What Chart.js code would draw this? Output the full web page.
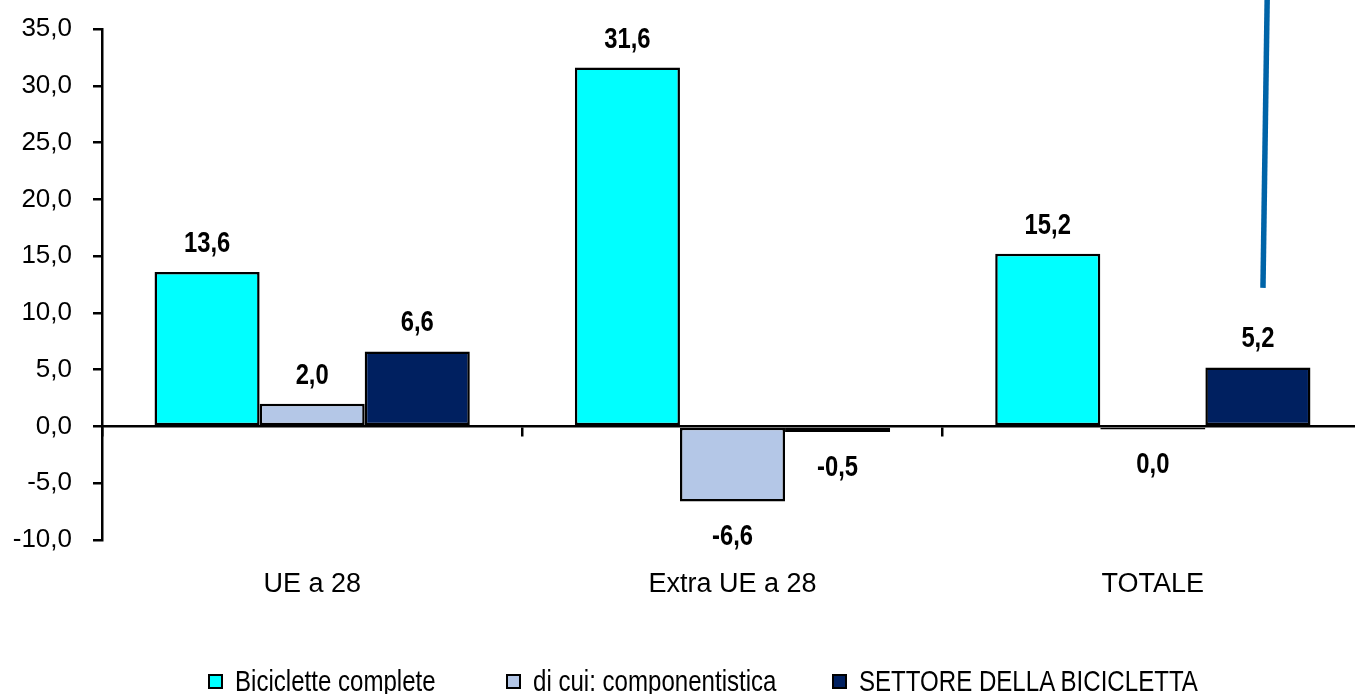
<!DOCTYPE html>
<html>
<head>
<meta charset="utf-8">
<script src="https://cdn.jsdelivr.net/npm/chart.js@4.4.1/dist/chart.umd.min.js"></script>
<style>
  html, body { margin: 0; padding: 0; background: #fff; overflow: hidden; }
  #wrap { position: relative; width: 1363px; height: 694px; }
  #legend { position: absolute; left: 0; top: 667px; width: 1355px; height: 28px; }
  .item { position: absolute; top: 0; display: flex; align-items: center; height: 28px; color: #000; white-space: nowrap; }
  .item:nth-child(1) { left: 208px; }
  .item:nth-child(2) { left: 506px; }
  .item:nth-child(3) { left: 832px; }
  .box { width: 15px; height: 15px; box-sizing: border-box; border: 2px solid #000; margin-right: 12px; }
  .txt { display: inline-block; font: 29px 'Liberation Sans', Arial, sans-serif; transform: scaleX(0.83); transform-origin: left center; }
</style>
</head>
<body>
<div id="wrap">
  <canvas id="myChart"></canvas>
  <div id="legend"></div>
</div>
<script>
const FONT = "'Liberation Sans', Arial, sans-serif"

// dati del grafico
const categories = ['UE a 28', 'Extra UE a 28', 'TOTALE']
const seriesNames = ['Biciclette complete', 'di cui: componentistica', 'SETTORE DELLA BICICLETTA']
const biciclette = [13.6, 31.6, 15.2]
const componentistica = [2.0, -6.6, -0.04]
const settore = [6.6, -0.5, 5.2]
const seriesColors = ['#00FFFF', '#B4C7E7', '#002060']
const yMin = -10
const yMax = 35
const yStep = 5

// numeri con la virgola (formato italiano)
function fmt(v) {
  if (Math.abs(v) < 0.05) return '0,0'
  return v.toFixed(1).replace('.', ',')
}

// etichette sopra / sotto le barre (testo un po' stretto, tipo Arial Narrow)
const barLabels = {
  id: 'barLabels',
  afterDatasetsDraw(chart) {
    const ctx = chart.ctx
    chart.data.datasets.forEach((ds, i) => {
      chart.getDatasetMeta(i).data.forEach((bar, j) => {
        const v = ds.data[j]
        const y = v >= 0 ? bar.y - 28 : bar.y + 36
        ctx.save()
        ctx.translate(bar.x, y)
        ctx.scale(0.82, 1)
        ctx.font = 'bold 29px ' + FONT
        ctx.fillStyle = '#000'
        ctx.textAlign = 'center'
        ctx.textBaseline = 'middle'
        ctx.fillText(fmt(v), 0, 0)
        ctx.restore()
      })
    })
  }
}

// la linea blu in alto a destra (presente nell'immagine originale)
const strayLine = {
  id: 'strayLine',
  afterDraw(chart) {
    const xs = chart.scales.x
    const ys = chart.scales.y
    const ctx = chart.ctx
    ctx.save()
    ctx.strokeStyle = '#0064A8'
    ctx.lineWidth = 5.5
    ctx.beginPath()
    ctx.moveTo(xs.getPixelForValue(2.272), 0)
    ctx.lineTo(xs.getPixelForValue(2.262), ys.getPixelForValue(12.2))
    ctx.stroke()
    ctx.restore()
  }
}

const values = [biciclette, componentistica, settore]

new Chart(document.getElementById('myChart'), {
  type: 'bar',
  data: {
    labels: categories,
    datasets: seriesNames.map((name, i) => ({
      label: name,
      data: values[i],
      backgroundColor: seriesColors[i],
      borderColor: '#000',
      borderWidth: 2.5,
      borderSkipped: false,
      minBarLength: 3,
      categoryPercentage: 0.75,
      barPercentage: 1
    }))
  },
  options: {
    responsive: true,
    maintainAspectRatio: false,
    animation: false,
    layout: { padding: { top: 29, right: 0, bottom: 48, left: 0 } },
    plugins: {
      legend: { display: false },
      tooltip: { enabled: false }
    },
    scales: {
      x: {
        position: { y: 0 },
        offset: true,
        grid: { offset: true, drawOnChartArea: false, tickLength: 9, color: '#000', lineWidth: 2.5 },
        border: { color: '#000', width: 2.5 },
        ticks: { display: false }
      },
      x2: {
        type: 'category',
        labels: categories,
        position: 'bottom',
        offset: true,
        grid: { display: false },
        border: { display: false },
        ticks: { color: '#000', font: { family: FONT, size: 27 }, padding: 20 },
        afterFit(scale) { scale.height = 106 }
      },
      y: {
        min: yMin,
        max: yMax,
        ticks: {
          stepSize: yStep,
          color: '#000',
          font: { family: FONT, size: 26 },
          padding: 21,
          callback: v => fmt(v)
        },
        grid: { drawOnChartArea: false, tickLength: 9, color: '#000', lineWidth: 2.5 },
        border: { color: '#000', width: 2.5 },
        afterFit(scale) {
          scale.width = 102
          scale.paddingTop = 0
          scale.paddingBottom = 0
        }
      }
    }
  },
  plugins: [barLabels, strayLine]
})

// legenda in html
const legend = document.getElementById('legend')
seriesNames.forEach((name, i) => {
  const item = document.createElement('div')
  item.className = 'item'
  const box = document.createElement('span')
  box.className = 'box'
  box.style.background = seriesColors[i]
  const txt = document.createElement('span')
  txt.className = 'txt'
  txt.textContent = name
  item.appendChild(box)
  item.appendChild(txt)
  legend.appendChild(item)
})
</script>
</body>
</html>
